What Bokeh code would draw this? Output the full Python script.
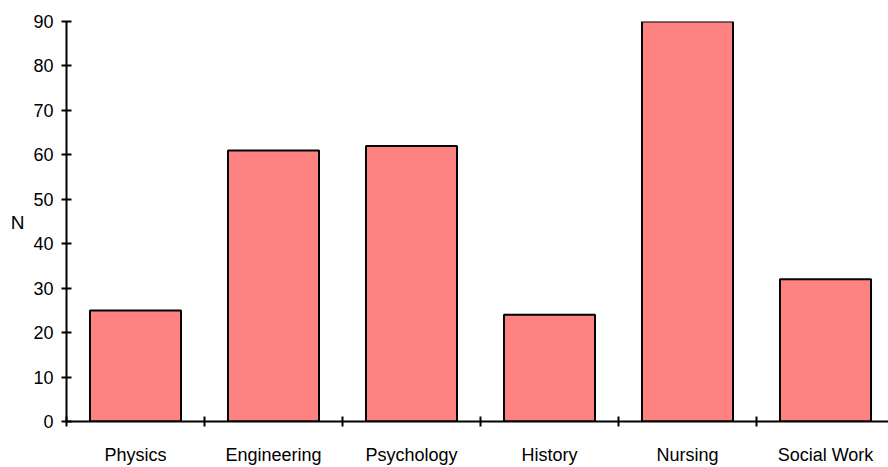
from bokeh.plotting import figure
from bokeh.models import FixedTicker, Range1d, ColumnDataSource, LinearAxis
from bokeh.embed import file_html
from bokeh.resources import INLINE

categories = ["Physics", "Engineering", "Psychology", "History", "Nursing", "Social Work"]
counts = [25, 61, 62, 24, 90, 32]
y_ticks = [0, 10, 20, 30, 40, 50, 60, 70, 80, 90]
y_label = "N"
y_label_pos = 44.8

centers = [i + 0.5 for i in range(len(categories))]
src = ColumnDataSource(dict(x=centers, top=counts))

FONT = "Liberation Sans"

p = figure(width=888, height=467, output_backend="svg", toolbar_location=None,
           x_range=Range1d(0, 822 / 138), y_range=Range1d(0, 90),
           min_border_left=66, min_border_right=0, min_border_top=21, min_border_bottom=46)
p.outline_line_color = None
p.grid.grid_line_color = None
p.background_fill_color = "white"

p.vbar(x="x", top="top", width=91 / 138, bottom=0, source=src,
       fill_color="#FF8282", line_color="black", line_width=2)

xa = p.xaxis[0]
xa.ticker = FixedTicker(ticks=centers, minor_ticks=list(range(0, 7)))
xa.major_label_overrides = {c: n for c, n in zip(centers, categories)}
xa.major_tick_in = 0
xa.major_tick_out = 0
xa.minor_tick_in = 5
xa.minor_tick_out = 5
xa.minor_tick_line_color = "black"
xa.minor_tick_line_width = 2
xa.axis_line_width = 2
xa.axis_line_color = "black"
xa.major_label_standoff = 18
xa.major_label_text_font = FONT
xa.major_label_text_font_size = "18px"
xa.major_label_text_color = "black"

ya = p.yaxis[0]
ya.ticker = FixedTicker(ticks=y_ticks, minor_ticks=[])
ya.major_tick_in = 5
ya.major_tick_out = 5
ya.major_tick_line_width = 2
ya.axis_line_width = 2
ya.axis_line_color = "black"
ya.major_label_standoff = 8
ya.major_label_text_font = FONT
ya.major_label_text_font_size = "18px"
ya.major_label_text_color = "black"

# horizontal "N" axis title, drawn as a tick label of an extra outer axis
na = LinearAxis(ticker=FixedTicker(ticks=[y_label_pos], minor_ticks=[]),
                major_label_overrides={y_label_pos: y_label},
                axis_line_color=None, major_tick_line_color=None, minor_tick_line_color=None,
                major_label_standoff=0, major_label_text_font=FONT,
                major_label_text_font_size="19px", major_label_text_color="black")
p.add_layout(na, "left")

open("out.html", "w").write(file_html(p, INLINE))
